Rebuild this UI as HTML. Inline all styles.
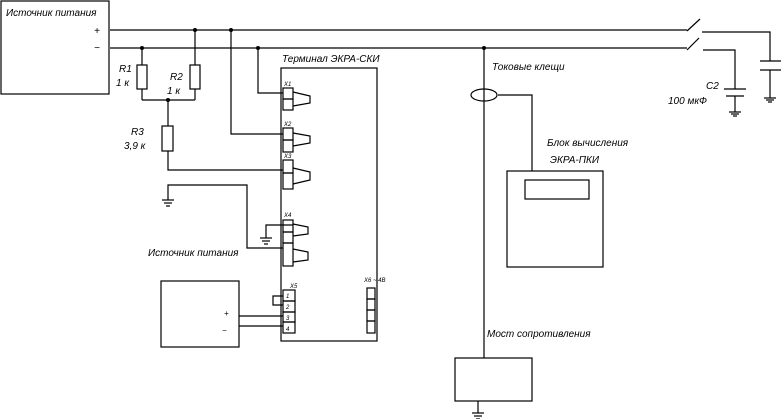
<!DOCTYPE html>
<html><head><meta charset="utf-8"><style>
html,body{margin:0;padding:0;background:#fff;}
svg{display:block;}
text{font-family:"Liberation Sans","DejaVu Sans",sans-serif;font-style:italic;fill:#000;}
</style></head><body>
<svg width="781" height="419" viewBox="0 0 781 419" xmlns="http://www.w3.org/2000/svg">
<g fill="none" stroke="#000" stroke-width="1.2">
<!-- power source box -->
<rect x="1" y="1" width="108" height="93"/>
<!-- + and - rails -->
<line x1="110" y1="30" x2="687" y2="30"/>
<line x1="110" y1="48" x2="687" y2="48"/>
<!-- switches -->
<line x1="687" y1="31" x2="700" y2="19"/>
<line x1="687" y1="50" x2="699" y2="38"/>
<polyline points="702,32 770,32 770,61"/>
<polyline points="703,50 735,50 735,89"/>
<!-- capacitor C2 -->
<line x1="724" y1="89" x2="746" y2="89"/>
<line x1="726" y1="96" x2="744" y2="96"/>
<line x1="735" y1="96" x2="735" y2="112"/>
<line x1="729" y1="112" x2="741" y2="112"/><line x1="731" y1="114" x2="739" y2="114"/><line x1="733" y1="116" x2="737" y2="116"/>
<!-- right cap -->
<line x1="760" y1="61" x2="781" y2="61"/>
<line x1="760" y1="70" x2="781" y2="70"/>
<line x1="770" y1="70" x2="770" y2="98"/>
<line x1="764" y1="98" x2="776" y2="98"/><line x1="766" y1="100" x2="774" y2="100"/><line x1="768" y1="102" x2="772" y2="102"/>
<!-- R1, R2 -->
<line x1="142" y1="48" x2="142" y2="65"/>
<rect x="137" y="65" width="10" height="24"/>
<line x1="142" y1="89" x2="142" y2="100"/>
<line x1="195" y1="30" x2="195" y2="65"/>
<rect x="190" y="65" width="10" height="24"/>
<line x1="195" y1="89" x2="195" y2="100"/>
<line x1="142" y1="100" x2="195" y2="100"/>
<line x1="168" y1="100" x2="168" y2="126"/>
<rect x="162" y="126" width="11" height="25"/>
<polyline points="168,151 168,170 283,170"/>
<polyline points="231,30 231,134 283,134"/>
<polyline points="258,48 258,93 283,93"/>
<!-- left ground -->
<polyline points="168,200 168,185 247,185 247,248 283,248"/>
<line x1="162" y1="200" x2="174" y2="200"/><line x1="164" y1="203" x2="172" y2="203"/><line x1="166" y1="206" x2="170" y2="206"/>
<!-- terminal box -->
<rect x="281" y="68" width="96" height="273"/>
<!-- connectors -->
<rect x="283" y="88" width="10" height="11"/><rect x="283" y="99" width="10" height="11"/>
<polyline points="293,92 310,96 310,103 293,106"/>
<rect x="283" y="128" width="10" height="12"/><rect x="283" y="140" width="10" height="12"/>
<polyline points="293,133 310,136 310,143 293,146"/>
<rect x="283" y="160" width="10" height="13"/><rect x="283" y="173" width="10" height="16"/>
<polyline points="293,168 310,172 310,180 293,184"/>
<rect x="283" y="220" width="10" height="12"/><rect x="283" y="232" width="10" height="11"/><rect x="283" y="243" width="10" height="23"/>
<polyline points="293,224 308,227 308,234 293,236"/>
<polyline points="293,249 308,252 308,260 293,262"/>
<polyline points="293,225 266,225 266,238"/>
<line x1="260" y1="238" x2="272" y2="238"/><line x1="262" y1="241" x2="270" y2="241"/><line x1="264" y1="244" x2="268" y2="244"/>
<!-- X block -->
<rect x="283" y="290" width="12" height="11"/><rect x="283" y="301" width="12" height="11"/><rect x="283" y="312" width="12" height="10"/><rect x="283" y="322" width="12" height="11"/>
<polyline points="283,296 273,296 273,305 283,305"/>
<rect x="367" y="288" width="8" height="11"/><rect x="367" y="299" width="8" height="11"/><rect x="367" y="310" width="8" height="11"/><rect x="367" y="321" width="8" height="12"/>
<!-- bottom left box -->
<rect x="161" y="281" width="78" height="66"/>
<line x1="239" y1="316" x2="283" y2="316"/>
<line x1="239" y1="326" x2="283" y2="326"/>
<!-- current clamp & vertical line -->
<line x1="484" y1="48" x2="484" y2="358"/>
<ellipse cx="484" cy="95" rx="13" ry="6"/>
<polyline points="498,95 532,95 532,171"/>
<!-- calc block -->
<rect x="507" y="171" width="96" height="96"/>
<rect x="525" y="180" width="64" height="19"/>
<!-- bridge -->
<rect x="455" y="358" width="77" height="43"/>
<line x1="478" y1="401" x2="478" y2="413"/>
<line x1="472" y1="413" x2="484" y2="413"/><line x1="474" y1="416" x2="482" y2="416"/><line x1="476" y1="419" x2="480" y2="419"/>
</g>
<g fill="#000">
<circle cx="142" cy="48" r="2"/><circle cx="195" cy="30" r="2"/><circle cx="231" cy="30" r="2"/>
<circle cx="258" cy="48" r="2"/><circle cx="484" cy="48" r="2"/><circle cx="168" cy="100" r="2"/>
</g>
<g font-size="10">
<text x="6" y="16">Источник питания</text>
<text x="94" y="34">+</text>
<text x="94" y="51">−</text>
<text x="119" y="72">R1</text><text x="116" y="86">1 к</text>
<text x="170" y="80">R2</text><text x="167" y="94">1 к</text>
<text x="131" y="135">R3</text><text x="124" y="149">3,9 к</text>
<text x="282" y="62">Терминал ЭКРА-СКИ</text>
<text x="148" y="256">Источник питания</text>
<text x="224" y="316" font-size="8">+</text>
<text x="222" y="333" font-size="8">−</text>
<text x="492" y="70">Токовые клещи</text>
<text x="706" y="89">C2</text>
<text x="668" y="104">100 мкФ</text>
<text x="547" y="146">Блок вычисления</text>
<text x="550" y="163">ЭКРА-ПКИ</text>
<text x="487" y="337">Мост сопротивления</text>
</g>
<g font-size="6">
<text x="284" y="86">X1</text><text x="284" y="126">X2</text><text x="284" y="158">X3</text>
<text x="284" y="217">X4</text><text x="290" y="288">X5</text><text x="364" y="282">X6  ~ 4В</text>
<text x="286" y="298">1</text><text x="286" y="309">2</text><text x="286" y="320">3</text><text x="286" y="331">4</text>
</g>
</svg>
</body></html>
